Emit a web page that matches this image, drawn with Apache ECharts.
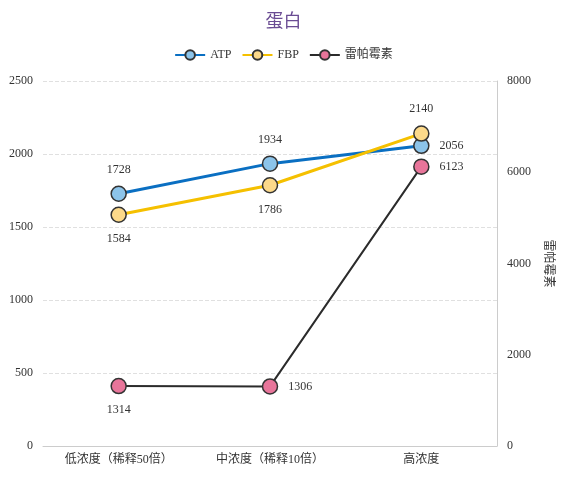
<!DOCTYPE html>
<html><head><meta charset="utf-8">
<script src="https://cdn.jsdelivr.net/npm/echarts@6/dist/echarts.min.js"></script>
<style>html,body{margin:0;padding:0;background:#fff}#c{width:567px;height:487px}</style>
</head><body><div id="c"></div>
<script>
const categories = ['低浓度（稀释50倍）', '中浓度（稀释10倍）', '高浓度'];
const atp = [1728, 1934, 2056];
const fbp = [1584, 1786, 2140];
const rapa = [1314, 1306, 6123];
const atpLabelPos = ['top', 'top', 'right'];
const fbpLabelPos = ['bottom', 'bottom', 'top'];
const rapaLabelPos = ['bottom', 'right', 'right'];
const font = "'Liberation Serif','Noto Sans CJK SC',serif";
function mk(vals, pos) {
  return vals.map((v, i) => ({ value: v, label: { position: pos[i] } }));
}
const lbl = { show: true, color: '#333', fontFamily: font, fontSize: 12, distance: 10 };
const chart = echarts.init(document.getElementById('c'));
chart.setOption({
  animation: false,
  title: { text: '蛋白', left: 'center', top: 8, textStyle: { color: '#6a4c93', fontFamily: font, fontSize: 18, fontWeight: 'normal' } },
  legend: { top: 44, left: 'center', itemWidth: 30, itemHeight: 12, itemGap: 10, textStyle: { fontFamily: font, fontSize: 12, color: '#333' },
    data: ['ATP', 'FBP', '雷帕霉素'] },
  grid: { left: 43, right: 70, top: 81, bottom: 41 },
  xAxis: { type: 'category', data: categories, boundaryGap: true,
    axisTick: { show: false }, axisLine: { lineStyle: { color: '#ccc' } },
    axisLabel: { color: '#333', fontFamily: font, fontSize: 12 } },
  yAxis: [
    { type: 'value', min: 0, max: 2500, interval: 500, axisLine: { show: false }, axisTick: { show: false },
      axisLabel: { color: '#333', fontFamily: font, fontSize: 12, margin: 10, formatter: v => String(v) },
      splitLine: { lineStyle: { type: 'dashed', color: '#e0e0e0' } } },
    { type: 'value', min: 0, max: 8000, interval: 2000, position: 'right', name: '雷帕霉素', nameLocation: 'middle', nameGap: 42, nameRotate: -90,
      nameTextStyle: { color: '#333', fontSize: 12, fontFamily: font },
      axisLine: { show: true, lineStyle: { color: '#ccc' } }, axisTick: { show: false },
      axisLabel: { color: '#333', fontFamily: font, fontSize: 12, margin: 10, formatter: v => String(v) }, splitLine: { show: false } }
  ],
  series: [
    { name: 'ATP', type: 'line', data: mk(atp, atpLabelPos), symbol: 'circle', symbolSize: 15,
      lineStyle: { color: '#0a6fc2', width: 3 }, itemStyle: { color: '#8cc4ea', borderColor: '#333', borderWidth: 1.5 }, label: lbl, z: 3 },
    { name: 'FBP', type: 'line', data: mk(fbp, fbpLabelPos), symbol: 'circle', symbolSize: 15,
      lineStyle: { color: '#f5c000', width: 3 }, itemStyle: { color: '#fcd98a', borderColor: '#333', borderWidth: 1.5 }, label: lbl, z: 3 },
    { name: '雷帕霉素', type: 'line', yAxisIndex: 1, data: mk(rapa, rapaLabelPos), symbol: 'circle', symbolSize: 15,
      lineStyle: { color: '#2b2b2b', width: 2 }, itemStyle: { color: '#e8759a', borderColor: '#333', borderWidth: 1.5 }, label: lbl, z: 2 }
  ]
});
</script></body></html>
